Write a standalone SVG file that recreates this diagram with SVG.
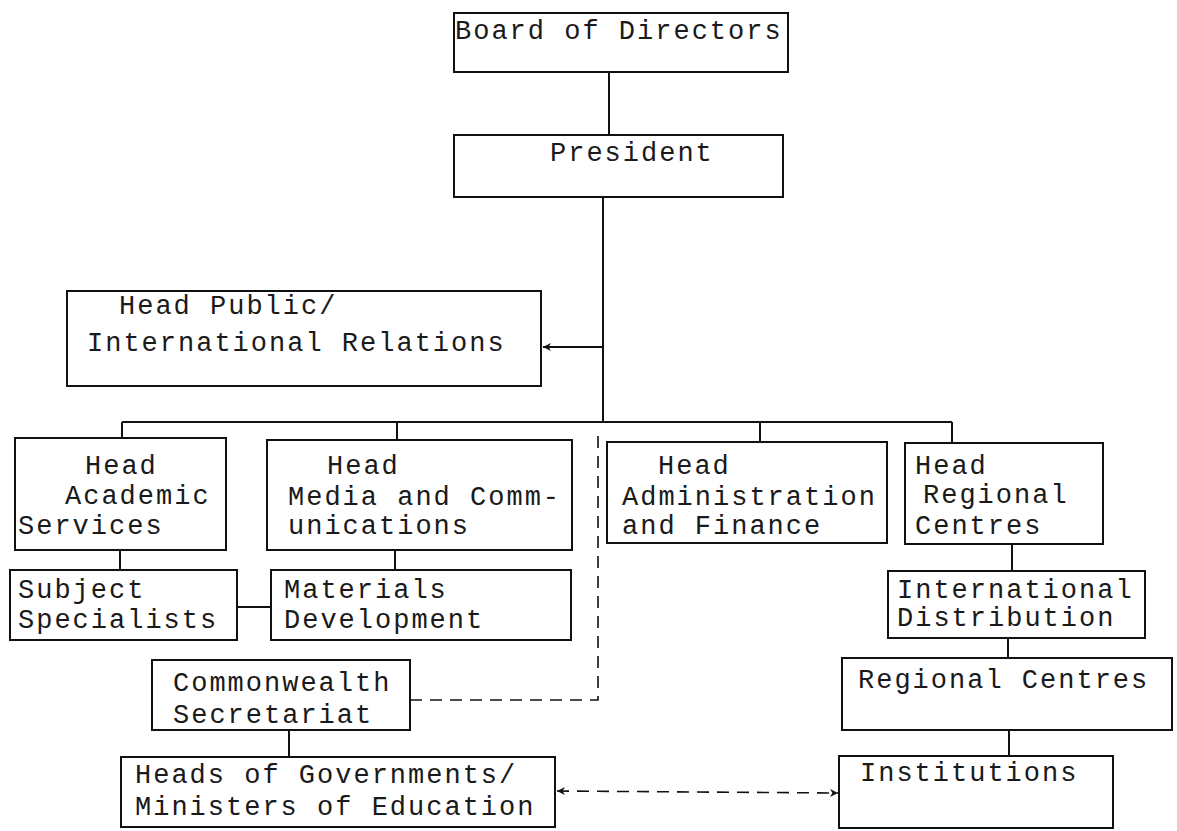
<svg xmlns="http://www.w3.org/2000/svg" width="1177" height="831" viewBox="0 0 1177 831">
<defs>
<style>
.box{fill:#fff;stroke:#111;stroke-width:2}
.t{font-family:"Liberation Mono","Courier New",monospace;font-size:27px;letter-spacing:2px;fill:#1a1a1a}
.ln{fill:none;stroke:#111;stroke-width:2}
.dash{fill:none;stroke:#111;stroke-width:1.6;stroke-dasharray:12 8}
</style>
<marker id="ah" viewBox="0 0 10 10" refX="10" refY="5" markerWidth="8" markerHeight="8" orient="auto-start-reverse" markerUnits="userSpaceOnUse">
<path d="M0,0 L10,5 L0,10 L3,5 Z" fill="#111"/>
</marker>
</defs>
<rect width="1177" height="831" fill="#fff"/>
<g id="connectors">
<line class="ln" x1="609" y1="72" x2="609" y2="135"/>
<line class="ln" x1="603" y1="197" x2="603" y2="422"/>
<line class="ln" x1="603" y1="347" x2="543" y2="347" marker-end="url(#ah)"/>
<line class="ln" x1="122" y1="422" x2="952" y2="422"/>
<line class="ln" x1="122" y1="422" x2="122" y2="438"/>
<line class="ln" x1="397" y1="422" x2="397" y2="440"/>
<line class="ln" x1="760" y1="422" x2="760" y2="442"/>
<line class="ln" x1="952" y1="422" x2="952" y2="443"/>
<line class="ln" x1="120" y1="550" x2="120" y2="570"/>
<line class="ln" x1="395" y1="550" x2="395" y2="570"/>
<line class="ln" x1="237" y1="607" x2="271" y2="607"/>
<line class="ln" x1="1012" y1="544" x2="1012" y2="571"/>
<line class="ln" x1="1008" y1="638" x2="1008" y2="658"/>
<line class="ln" x1="1009" y1="730" x2="1009" y2="756"/>
<line class="ln" x1="289" y1="730" x2="289" y2="757"/>
<polyline class="dash" points="410,700 598,700 598,428"/>
<line class="dash" x1="557" y1="791" x2="838" y2="793" marker-start="url(#ah)" marker-end="url(#ah)"/>
</g>
<g id="board">
<rect class="box" x="454" y="13" width="334" height="59"/>
<text class="t" x="455" y="39">Board of Directors</text>
</g>
<g id="president">
<rect class="box" x="454" y="135" width="329" height="62"/>
<text class="t" x="550" y="161">President</text>
</g>
<g id="head-public">
<rect class="box" x="67" y="291" width="474" height="95"/>
<text class="t" x="119" y="314">Head Public/</text>
<text class="t" x="87" y="351">International Relations</text>
</g>
<g id="head-academic">
<rect class="box" x="15" y="438" width="211" height="112"/>
<text class="t" x="85" y="474">Head</text>
<text class="t" x="65" y="504">Academic</text>
<text class="t" x="18" y="534">Services</text>
</g>
<g id="head-media">
<rect class="box" x="267" y="440" width="305" height="110"/>
<text class="t" x="327" y="474">Head</text>
<text class="t" x="288" y="505">Media and Comm-</text>
<text class="t" x="288" y="534">unications</text>
</g>
<g id="head-admin">
<rect class="box" x="607" y="442" width="280" height="101"/>
<text class="t" x="658" y="474">Head</text>
<text class="t" x="622" y="505">Administration</text>
<text class="t" x="622" y="534">and Finance</text>
</g>
<g id="head-regional">
<rect class="box" x="905" y="443" width="198" height="101"/>
<text class="t" x="915" y="474">Head</text>
<text class="t" x="923" y="503">Regional</text>
<text class="t" x="915" y="534">Centres</text>
</g>
<g id="subject-specialists">
<rect class="box" x="10" y="570" width="227" height="70"/>
<text class="t" x="18" y="598">Subject</text>
<text class="t" x="18" y="628">Specialists</text>
</g>
<g id="materials-development">
<rect class="box" x="271" y="570" width="300" height="70"/>
<text class="t" x="284" y="598">Materials</text>
<text class="t" x="284" y="628">Development</text>
</g>
<g id="international-distribution">
<rect class="box" x="888" y="571" width="257" height="67"/>
<text class="t" x="897" y="598">International</text>
<text class="t" x="897" y="626">Distribution</text>
</g>
<g id="regional-centres">
<rect class="box" x="842" y="658" width="330" height="72"/>
<text class="t" x="858" y="688">Regional Centres</text>
</g>
<g id="commonwealth-secretariat">
<rect class="box" x="152" y="660" width="258" height="70"/>
<text class="t" x="173" y="691">Commonwealth</text>
<text class="t" x="173" y="723">Secretariat</text>
</g>
<g id="heads-of-governments">
<rect class="box" x="121" y="757" width="434" height="70"/>
<text class="t" x="135" y="783">Heads of Governments/</text>
<text class="t" x="135" y="815">Ministers of Education</text>
</g>
<g id="institutions">
<rect class="box" x="839" y="756" width="274" height="72"/>
<text class="t" x="860" y="781">Institutions</text>
</g>
</svg>
